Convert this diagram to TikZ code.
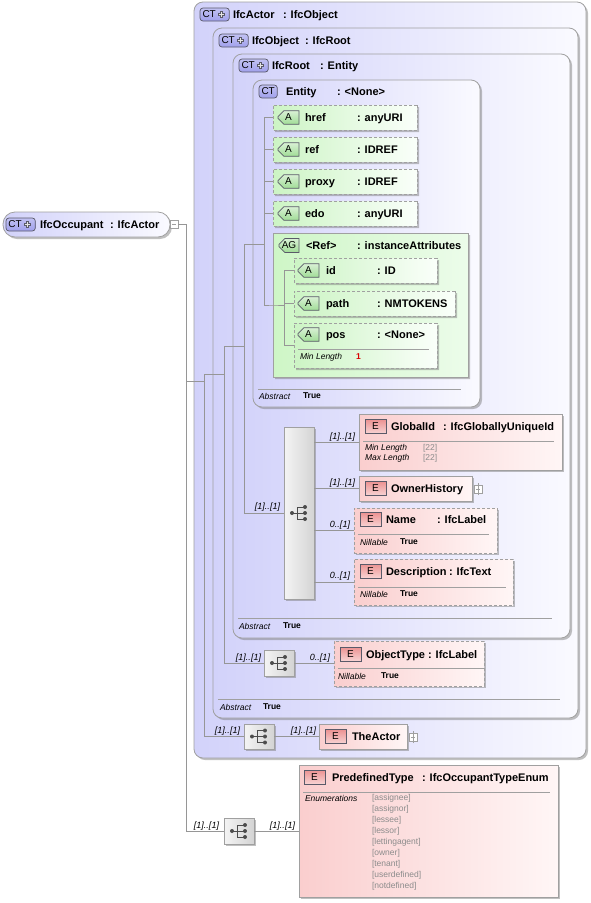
\documentclass[tikz,border=0pt]{standalone}
\usepackage{fontspec}
\setmainfont{Liberation Sans}
\usetikzlibrary{positioning,shadows,shapes.misc}

\definecolor{ctleft}{RGB}{210,210,250}
\definecolor{ctright}{RGB}{250,250,255}
\definecolor{elleft}{RGB}{250,206,206}
\definecolor{elright}{RGB}{255,246,246}
\definecolor{atleft}{RGB}{204,244,196}
\definecolor{atright}{RGB}{250,255,250}
\definecolor{agleft}{RGB}{206,246,198}
\definecolor{agright}{RGB}{236,252,234}
\definecolor{seqleft}{RGB}{244,244,244}
\definecolor{seqright}{RGB}{212,212,212}
\definecolor{boxgray}{RGB}{160,160,160}
\definecolor{linegray}{RGB}{150,150,150}
\definecolor{ctb}{RGB}{160,160,236}
\definecolor{eb}{RGB}{236,146,146}
\definecolor{ab}{RGB}{160,220,150}
\definecolor{badgeline}{RGB}{90,90,105}
\definecolor{enumgray}{RGB}{140,140,140}

\begin{document}
\begin{tikzpicture}[x=1pt,y=1pt,yscale=-1,
  every node/.style={inner sep=0pt,outer sep=0pt},
  conn/.style={draw=linegray,line width=0.8pt},
  sepline/.style={draw=boxgray,line width=0.8pt},
  boxshadow/.style={drop shadow={shadow xshift=2pt,shadow yshift=-2pt,opacity=0.45,fill=black!55}},
  ctbox/.style={draw=boxgray,line width=0.8pt,rounded corners=9pt,left color=ctleft,right color=ctright,boxshadow,anchor=north west},
  occbox/.style={ctbox,rounded corners=12pt},
  elbox/.style={draw=boxgray,line width=0.8pt,left color=elleft,right color=elright,boxshadow,anchor=north west},
  optbox/.style={elbox,dash pattern=on 3pt off 2pt},
  atbox/.style={chamfered rectangle,chamfered rectangle corners={north west,south west},chamfered rectangle xsep=8pt,draw=boxgray,dash pattern=on 3pt off 2pt,line width=0.8pt,left color=atleft,right color=atright,boxshadow,anchor=north west},
  agbox/.style={atbox,chamfered rectangle xsep=10pt,solid,left color=agleft,right color=agright},
  seqbox/.style={draw=boxgray,line width=0.8pt,left color=seqleft,right color=seqright,boxshadow,anchor=north west},
  togglebox/.style={draw=boxgray,fill=white,minimum size=8pt,line width=0.6pt},
  ctbadge/.style={draw=badgeline,line width=0.7pt,rounded corners=3pt,top color=ctb!65!white,bottom color=ctb,minimum height=13pt,inner xsep=2.5pt,font=\fontsize{10}{10}\selectfont,anchor=west},
  ebadge/.style={draw=badgeline,line width=0.7pt,top color=eb,bottom color=eb!40!white,minimum width=21pt,minimum height=14pt,font=\fontsize{10}{10}\selectfont,anchor=west},
  abadge/.style={chamfered rectangle,chamfered rectangle corners={north west,south west},chamfered rectangle xsep=2.5pt,draw=badgeline,line width=0.7pt,top color=ab!40!white,bottom color=ab,minimum width=21pt,minimum height=12pt,font=\fontsize{10}{10}\selectfont,anchor=west},
  tname/.style={font=\fontsize{11}{13}\selectfont\bfseries,anchor=west,text height=8pt,text depth=0pt},
  tnote/.style={font=\fontsize{8.5}{10}\selectfont\itshape,anchor=west},
  tval/.style={font=\fontsize{8.5}{10}\selectfont\bfseries,anchor=west},
  tenum/.style={font=\fontsize{8.5}{10}\selectfont,text=enumgray,anchor=west},
  mult/.style={font=\fontsize{9}{10}\selectfont\itshape,anchor=east},
  plusmk/.style={line width=2.8pt,draw=badgeline},
  plusin/.style={line width=1pt,draw=white!80!gray},
  seqicon/.pic={
    \draw[line width=0.8pt,black!70] (-7,0) -- (-2,0) (-2,-6) -- (-2,6) (-2,-6) -- (6,-6) (-2,0) -- (6,0) (-2,6) -- (6,6);
    \fill[black!70] (-7,0) circle (2) (6,-6) circle (2) (6,0) circle (2) (6,6) circle (2);
  }
]
\useasboundingbox (0,0) rectangle (591,903);

%Complex type boxes
\node[ctbox,minimum width=392pt,minimum height=756pt] (actor) at (194,2) {};
\node[ctbox,minimum width=365pt,minimum height=690pt] (object) at (213,28) {};
\node[ctbox,minimum width=337pt,minimum height=584pt] (root) at (233,54) {};
\node[ctbox,minimum width=227pt,minimum height=327pt] (entity) at (253,80) {};

%Titles of the complex types
\node[ctbadge] (actor-b) at (200,14.5) {CT\rule{11pt}{0pt}};
\draw[plusmk] ([xshift=-7.5pt]actor-b.east) +(-3.5,0) -- +(3.5,0) +(0,-3.5) -- +(0,3.5);
\draw[plusin] ([xshift=-7.5pt]actor-b.east) +(-2.5,0) -- +(2.5,0) +(0,-2.5) -- +(0,2.5);
\node[tname] (actor-n) at (233,14.5) {IfcActor};
\node[tname] (actor-t) at (283,14.5) {: IfcObject};
\node[ctbadge] (object-b) at (219,40.5) {CT\rule{11pt}{0pt}};
\draw[plusmk] ([xshift=-7.5pt]object-b.east) +(-3.5,0) -- +(3.5,0) +(0,-3.5) -- +(0,3.5);
\draw[plusin] ([xshift=-7.5pt]object-b.east) +(-2.5,0) -- +(2.5,0) +(0,-2.5) -- +(0,2.5);
\node[tname] (object-n) at (252,40.5) {IfcObject};
\node[tname] (object-t) at (305,40.5) {: IfcRoot};
\node[ctbadge] (root-b) at (239,65.5) {CT\rule{11pt}{0pt}};
\draw[plusmk] ([xshift=-7.5pt]root-b.east) +(-3.5,0) -- +(3.5,0) +(0,-3.5) -- +(0,3.5);
\draw[plusin] ([xshift=-7.5pt]root-b.east) +(-2.5,0) -- +(2.5,0) +(0,-2.5) -- +(0,2.5);
\node[tname] (root-n) at (272,65.5) {IfcRoot};
\node[tname] (root-t) at (320,65.5) {: Entity};
\node[ctbadge] (entity-b) at (259,91.5) {CT};
\node[tname] (entity-n) at (286,91.5) {Entity};
\node[tname] (entity-t) at (337,91.5) {: <None>};

%Abstract rows
\draw[sepline] (258,389) -- (461,389);
\node[tnote] (entity-abs) at (259,396) {Abstract};
\node[tval] (entity-abv) at (303,396) {True};
\draw[sepline] (238,618) -- (552,618);
\node[tnote] (root-abs) at (239,626) {Abstract};
\node[tval] (root-abv) at (283,626) {True};
\draw[sepline] (218,699) -- (560,699);
\node[tnote] (object-abs) at (220,707) {Abstract};
\node[tval] (object-abv) at (263,707) {True};

%IfcOccupant
\node[occbox,minimum width=167pt,minimum height=25pt] (occ) at (3,212) {};
\node[ctbadge] (occ-b) at (6,224.5) {CT\rule{11pt}{0pt}};
\draw[plusmk] ([xshift=-7.5pt]occ-b.east) +(-3.5,0) -- +(3.5,0) +(0,-3.5) -- +(0,3.5);
\draw[plusin] ([xshift=-7.5pt]occ-b.east) +(-2.5,0) -- +(2.5,0) +(0,-2.5) -- +(0,2.5);
\node[tname] (occ-n) at (40,224.5) {IfcOccupant};
\node[tname] (occ-t) at (110,224.5) {: IfcActor};
\node[togglebox,anchor=west] (occ-x) at (170,224.5) {};
\draw[boxgray,line width=0.6pt] ([xshift=2pt]occ-x.west) -- ([xshift=-2pt]occ-x.east);

%Attributes of Entity
\node[atbox,minimum width=144pt,minimum height=25pt] (href) at (273,105) {};
\node[atbox,minimum width=144pt,minimum height=25pt] (ref) at (273,137) {};
\node[atbox,minimum width=144pt,minimum height=25pt] (proxy) at (273,169) {};
\node[atbox,minimum width=144pt,minimum height=25pt] (edo) at (273,201) {};
\foreach \n/\a/\t in {href/href/anyURI,ref/ref/IDREF,proxy/proxy/IDREF,edo/edo/anyURI}{
  \node[abadge] (\n-b) at ([xshift=5pt]\n.west) {A};
  \node[tname] (\n-n) at ([xshift=32pt]\n.west) {\a};
  \node[tname] (\n-t) at ([xshift=84pt]\n.west) {: \t};
}

%Attribute group
\node[agbox,minimum width=195pt,minimum height=144pt] (ag) at (273,233) {};
\node[abadge,minimum width=20pt] (ag-b) at (279,245.5) {AG};
\node[tname] (ag-n) at (306,245.5) {<Ref>};
\node[tname] (ag-t) at (357,245.5) {: instanceAttributes};
\node[atbox,minimum width=143pt,minimum height=25pt] (id) at (294,258) {};
\node[atbox,minimum width=161pt,minimum height=25pt] (path) at (294,291) {};
\node[atbox,minimum width=143pt,minimum height=45pt] (pos) at (294,323) {};
\foreach \n/\a/\t/\y in {id/id/ID/270.5,path/path/NMTOKENS/303.5,pos/pos/<None>/334.5}{
  \node[abadge] (\n-b) at (298,\y) {A};
  \node[tname] (\n-n) at (326,\y) {\a};
  \node[tname] (\n-t) at (377,\y) {: \t};
}
\draw[sepline] (298,349) -- (429,349);
\node[tnote] (pos-ml) at (300,357) {Min Length};
\node[font=\fontsize{8.5}{10}\selectfont\bfseries,text=red!85!black,anchor=west] (pos-mlv) at (356,357) {1};

%Sequences
\node[seqbox,minimum width=30pt,minimum height=172pt] (seq1) at (284,427) {};
\pic at (seq1) {seqicon};
\node[seqbox,minimum width=30pt,minimum height=26pt] (seq2) at (264,650) {};
\pic at (seq2) {seqicon};
\node[seqbox,minimum width=30pt,minimum height=25pt] (seq3) at (244,724) {};
\pic at (seq3) {seqicon};
\node[seqbox,minimum width=30pt,minimum height=26pt] (seq4) at (224,818) {};
\pic at (seq4) {seqicon};

%Elements
\node[elbox,minimum width=203pt,minimum height=56pt] (gid) at (359,414) {};
\node[ebadge] (gid-b) at (365,426.5) {E};
\node[tname] (gid-n) at (391,426.5) {GlobalId};
\node[tname] (gid-t) at (443,426.5) {: IfcGloballyUniqueId};
\draw[sepline] (363,441) -- (554,441);
\node[tnote] (gid-mn) at (365,448) {Min Length};
\node[tenum] (gid-mnv) at (423,448) {[22]};
\node[tnote] (gid-mx) at (365,458) {Max Length};
\node[tenum] (gid-mxv) at (423,458) {[22]};

\node[elbox,minimum width=113pt,minimum height=25pt] (own) at (359,476) {};
\node[ebadge] (own-b) at (365,488.5) {E};
\node[tname] (own-n) at (391,488.5) {OwnerHistory};
\node[togglebox,anchor=west] (own-x) at (474,489) {};
\draw[boxgray,line width=0.6pt] ([xshift=2pt]own-x.west) -- ([xshift=-2pt]own-x.east) ([yshift=2pt]own-x.south) -- ([yshift=-2pt]own-x.north);

\node[optbox,minimum width=143pt,minimum height=45pt] (nam) at (354,508) {};
\node[ebadge] (nam-b) at (360,519.5) {E};
\node[tname] (nam-n) at (386,519.5) {Name};
\node[tname] (nam-t) at (437,519.5) {: IfcLabel};
\draw[sepline] (358,534) -- (489,534);
\node[tnote] (nam-nl) at (360,542) {Nillable};
\node[tval] (nam-nlv) at (400,542) {True};

\node[optbox,minimum width=159pt,minimum height=46pt] (des) at (354,559) {};
\node[ebadge] (des-b) at (360,571) {E};
\node[tname] (des-n) at (386,571) {Description};
\node[tname] (des-t) at (449,571) {: IfcText};
\draw[sepline] (358,587) -- (506,587);
\node[tnote] (des-nl) at (360,594) {Nillable};
\node[tval] (des-nlv) at (400,594) {True};

\node[optbox,minimum width=150pt,minimum height=45pt] (ot) at (334,641) {};
\node[ebadge] (ot-b) at (340,654) {E};
\node[tname] (ot-n) at (366,654) {ObjectType};
\node[tname] (ot-t) at (428,654) {: IfcLabel};
\draw[sepline] (338,668) -- (485,668);
\node[tnote] (ot-nl) at (338,676) {Nillable};
\node[tval] (ot-nlv) at (381,676) {True};

\node[elbox,minimum width=88pt,minimum height=25pt] (act) at (319,724) {};
\node[ebadge] (act-b) at (325,736.5) {E};
\node[tname] (act-n) at (352,736.5) {TheActor};
\node[togglebox,anchor=west] (act-x) at (409,737) {};
\draw[boxgray,line width=0.6pt] ([xshift=2pt]act-x.west) -- ([xshift=-2pt]act-x.east) ([yshift=2pt]act-x.south) -- ([yshift=-2pt]act-x.north);

\node[elbox,minimum width=259pt,minimum height=132pt] (pre) at (299,765) {};
\node[ebadge] (pre-b) at (304,777) {E};
\node[tname] (pre-n) at (332,777) {PredefinedType};
\node[tname] (pre-t) at (422,777) {: IfcOccupantTypeEnum};
\draw[sepline] (303,792) -- (550,792);
\node[tnote] (pre-en) at (305,798.5) {Enumerations};
\foreach \v [count=\i from 0] in {assignee,assignor,lessee,lessor,lettingagent,owner,tenant,userdefined,notdefined}
  \node[tenum] (pre-v\i) at (372,798.5+11*\i) {[\v]};

%Connectors
\coordinate (busO) at (186,224.5);
\coordinate (jA) at (186,381);
\coordinate (busA) at (204,374);
\coordinate (busB) at (224,346);
\coordinate (busC) at (244,244);
\coordinate (busD) at (264,117.5);
\coordinate (busE) at (284,270.5);
\draw[conn] (occ-x.east) -- (busO) |- (seq4.west);
\draw[conn] (jA) -- (jA -| busA);
\draw[conn] (busA) |- (seq3.west);
\draw[conn] (busA) -- (busA -| busB);
\draw[conn] (busB) |- (seq2.west);
\draw[conn] (busB) -- (busB -| busC);
\draw[conn] (busC) |- (seq1.west);
\draw[conn] (busC) -- (busC -| busD);
\draw[conn] (busD) |- (ag.west) -- (busE |- ag.west);
\foreach \n in {href,ref,proxy,edo} \draw[conn] (busD |- \n.west) -- (\n.west);
\draw[conn] (busE) |- (pos.west);
\foreach \n in {id,path} \draw[conn] (busE |- \n.west) -- (\n.west);
\foreach \n in {gid,own,nam,des} \draw[conn] (seq1.east |- \n.west) -- (\n.west);
\draw[conn] (seq2.east) -- (seq2.east -| ot.west);
\draw[conn] (seq3.east) -- (act.west);
\draw[conn] (seq4.east) -- (pre.west);

%Occurrence labels
\node[mult] (m1) at (280,507) {[1]..[1]};
\node[mult] (m2) at (355,437) {[1]..[1]};
\node[mult] (m3) at (355,483) {[1]..[1]};
\node[mult] (m4) at (350,525) {0..[1]};
\node[mult] (m5) at (350,576) {0..[1]};
\node[mult] (m6) at (261,658) {[1]..[1]};
\node[mult] (m7) at (330,658) {0..[1]};
\node[mult] (m8) at (240,731) {[1]..[1]};
\node[mult] (m9) at (316,731) {[1]..[1]};
\node[mult] (m10) at (219,826) {[1]..[1]};
\node[mult] (m11) at (295,826) {[1]..[1]};

\end{tikzpicture}
\end{document}
